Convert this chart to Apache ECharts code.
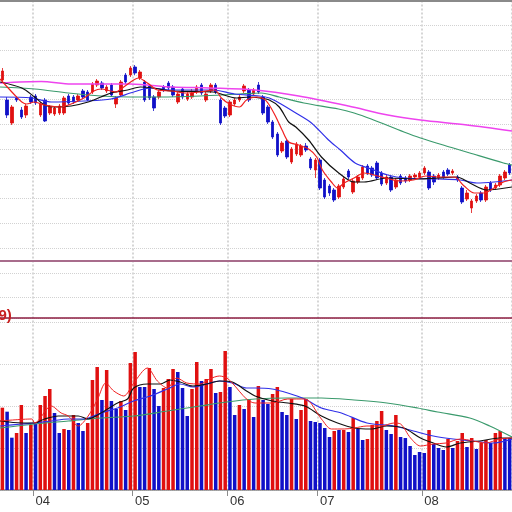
<!DOCTYPE html>
<html><head><meta charset="utf-8">
<script src="https://cdn.jsdelivr.net/npm/echarts@6/dist/echarts.min.js"></script>
<style>html,body{margin:0;padding:0;background:#fff}#c{width:512px;height:512px}</style>
</head><body><div id="c"></div>
<script>
// ---- data ----
const monthLabels = ['03','04','05','06','07','08'];
const monthBars   = [7,21,20,19,22,19];

const opens = [831,791,745,795,771,761,797,799,761,791, 765,763,765,765,799,797,791,809,807,807,
  821,825,809,821,783,801,841,841,857,835, 827,819,797,797,817,825,817,787,813,793,
  797,807,821,791,809,821,791,775,761,783, 791,809,811,803,821,797,777,747,723,689,
  709,667,683,681,699,673,651,671,631,619, 611,597,617,649,607,627,635,659,655,665,
  645,625,637,617,639,635,631,637,637,645, 647,639,635,647,651,645,637,615,593,575,
  589,605,591,625,615,621,635,661];
const closes = [849,761,777,791,757,779,787,785,783,749, 777,775,779,795,785,787,799,797,791,823,
  829,815,817,801,795,827,827,855,845,847, 791,795,775,807,811,815,801,803,797,803,
  805,817,805,803,821,807,745,759,787,791, 797,819,791,811,807,765,747,717,681,705,
  677,693,703,699,691,655,671,615,597,605, 591,619,633,637,629,637,657,645,641,635,
  623,637,611,631,625,629,639,641,645,655, 615,627,641,637,643,649,631,587,605,589,
  599,591,617,611,621,639,647,645];
const highs = [855,797,781,799,777,783,801,803,787,795, 781,779,783,799,803,801,803,813,811,827,
  833,829,821,825,799,831,845,859,861,851, 831,823,801,811,821,829,821,807,817,807,
  813,821,825,807,825,825,795,779,791,795, 801,823,815,815,827,801,781,751,727,709,
  713,697,707,703,705,677,675,675,635,623, 615,623,637,653,633,641,661,663,659,669,
  649,641,641,635,643,639,643,645,649,659, 651,643,645,651,655,653,641,619,611,593,
  603,609,621,629,625,643,651,665];
const lows = [827,755,741,787,753,755,783,781,757,747, 761,759,761,761,781,783,787,793,789,803,
  817,811,805,797,775,797,823,837,841,831, 787,791,769,793,807,811,797,783,793,789,
  793,803,801,787,805,803,741,755,757,779, 787,805,787,799,803,761,743,713,677,685,
  673,663,679,677,687,651,635,611,593,599, 587,593,613,633,603,623,631,641,637,631,
  619,621,607,613,621,625,627,633,633,641, 611,621,631,633,639,641,627,583,589,565,
  585,587,587,607,611,617,631,641];

const volumes = [2058,1958,1308,1425,2125,1425,1625,1650,2125,2350, 2525,1925,1425,1525,1500,1875,1675,1475,1675,2750,
  3075,2250,3000,2225,2025,2225,2000,3175,3450,2575, 2575,3050,2525,2100,2550,2775,3025,2950,2550,1850,
  2525,3200,2725,2775,3025,2425,2450,3475,2575,1875, 2125,2025,2275,1825,2600,2250,2150,2400,2575,1950,
  1875,2275,1775,2000,2275,1725,1700,1675,1550,1325, 1475,1500,1500,1450,1800,1525,1250,1275,1625,1725,
  1975,1500,1400,1875,1325,1300,1100,875,950,925, 1500,1150,1050,1000,1275,1050,1225,1425,1075,1300,
  1025,1175,1250,1175,1425,1475,1300,1300];
const volUp = [1,0,0,1,1,0,1,0,1,1, 1,0,0,1,0,1,0,0,1,1, 1,0,1,0,0,1,0,1,1,0, 0,1,0,0,1,1,1,0,0,0,
  1,1,0,1,1,0,1,1,0,0, 1,0,1,0,1,0,0,1,1,0, 0,1,0,1,1,0,0,0,0,0, 1,0,1,0,1,0,0,1,1,1,
  1,0,0,1,0,0,0,0,0,0, 1,0,0,0,1,0,1,1,0,1, 0,1,1,0,1,1,0,0];

// moving-average lines, vertices [bar index, value]
const maRed = [[-0.5,833],[2.6,801],[4.1,787],[5.1,783],[6.8,787],[8.9,781],[12.4,777],[14.5,783],[17.2,795],[19.3,809],[20.8,813],[22.9,809],[23.9,807],[25.6,817],[27.7,831],[28.7,835],[30.6,825],[32.7,811],[35.8,809],[38.5,805],[41.6,807],[44.8,811],[46.2,795],[47.9,783],[50,777],[51.5,791],[53.6,797],[55.2,793],[56.3,781],[57.7,757],[59,731],[60.4,707],[62.5,701],[64.6,693],[66.3,677],[67.5,651],[69.4,627],[70.7,615],[72.1,625],[74.2,635],[76.3,645],[79.2,639],[81.7,633],[84,629],[86.7,631],[89.3,639],[92.4,637],[95.3,637],[97.4,619],[99.5,605],[101.6,605],[103.7,615],[105.7,627],[107.5,631]];
const maBlack = [[-0.5,827],[4.1,815],[6.8,797],[8.9,781],[11,777],[14.5,779],[18.1,787],[20.8,797],[22.9,805],[26.4,811],[29.1,817],[31.8,815],[35.8,809],[44.4,807],[49.4,795],[52.1,797],[54.2,795],[56.3,791],[58.4,777],[60.4,747],[61.9,737],[64.6,711],[67.3,677],[70.7,647],[74.2,627],[76.3,627],[81.1,635],[87.6,633],[91.8,635],[95.9,637],[98.6,625],[102.2,611],[107.5,617]];
const maBlue = [[-0.5,797],[6.2,795],[10.3,787],[17.2,789],[22.9,793],[27.7,807],[31.2,815],[35.8,811],[44.4,811],[49,803],[54.2,799],[56.3,795],[58.4,785],[61.9,765],[65.2,745],[68.8,711],[71.3,691],[74.4,665],[77.8,653],[81.3,641],[84.9,635],[91.8,633],[96.6,631],[100.1,625],[103.7,627],[107.5,631]];
const maGreen = [[-0.5,817],[6.8,813],[13.9,805],[20.8,799],[27,797],[33.3,797],[41.7,799],[50,803],[54.6,805],[58.4,797],[63.6,785],[70.9,773],[74.2,765],[77.8,753],[84.7,727],[88.2,715],[95.1,695],[98.6,685],[105.7,665],[107.5,661]];
const maPink = [[-0.5,825],[8.2,828],[14.5,823],[27,823],[35.8,817],[43.7,815],[53.3,811],[62.5,799],[73,779],[81.3,761],[88.2,751],[98,741],[107.5,729]];

const vmaRed = [[-0.5,1725],[6.2,1775],[6.8,1675],[10.3,2100],[12.4,1925],[13.9,1850],[16,1600],[18.1,1850],[20.1,2275],[21.8,2675],[23.5,2475],[25.6,2350],[27.7,2675],[30.6,3050],[32.7,2725],[34.8,2550],[36.8,2800],[38.9,2675],[41.7,2650],[43.7,2775],[45.8,2850],[47.3,2800],[48.5,2675],[51.5,2275],[53.3,2175],[56.9,2175],[60.2,2275],[63.8,2275],[67.3,1775],[69.4,1525],[72.1,1525],[74.2,1550],[76.9,1600],[79.9,1600],[82.6,1675],[84,1650],[86.1,1300],[88.2,1100],[90.9,1150],[93.6,1175],[96.6,1275],[99.3,1225],[102,1175],[104.9,1275],[107.5,1300]];
const vmaBlack = [[-0.5,1725],[4.1,1675],[6.8,1675],[8.9,1775],[11.8,1850],[16,1850],[18.1,1775],[20.8,1925],[24.3,2175],[26.4,2275],[27.7,2550],[30.6,2650],[33.3,2650],[35.4,2750],[37.5,2700],[40.2,2600],[43.1,2650],[45.8,2725],[48.5,2700],[51.5,2475],[53.3,2350],[56.9,2225],[60.2,2175],[63.8,2100],[67.3,1850],[70.7,1675],[74.2,1550],[77.8,1525],[81.1,1600],[84.7,1550],[88.2,1300],[90.9,1175],[93.6,1075],[96.6,1175],[100.7,1225],[104.9,1300],[107.5,1300]];
const vmaBlue = [[-0.5,1600],[4.1,1650],[6.8,1675],[10.3,1725],[13.9,1775],[17.2,1775],[20.8,1925],[24.3,2050],[27.7,2225],[31.2,2350],[34.8,2525],[37.5,2650],[40.2,2575],[43.1,2650],[45.8,2725],[48.5,2675],[51.5,2550],[53.3,2550],[56.9,2525],[60.2,2425],[63.8,2275],[67.3,2050],[71.5,1925],[76.9,1675],[82.6,1600],[86.7,1475],[90.9,1350],[95.1,1275],[99.3,1225],[103.4,1175],[107.5,1275]];
const vmaGreen = [[-0.5,1550],[6.8,1650],[13.9,1725],[20.8,1800],[27.7,1850],[34.8,1975],[41.7,2100],[47.3,2200],[53.3,2275],[60.2,2300],[67.3,2300],[74.2,2250],[81.1,2175],[87.6,2050],[91.8,1950],[98.6,1800],[102.8,1600],[107.5,1325]];

// ---- build ----
const RED = '#e01010', BLUE = '#1010c8';
const categories = [];
const isStart = [];
monthLabels.forEach((m, mi) => {
  for (let d = 0; d < monthBars[mi]; d++) {
    categories.push(m + '/' + (d + 1));
    isStart.push(mi > 0 && d === 0);
  }
});
const N = categories.length;
const candles = opens.map((o, i) => [o, closes[i], lows[i], highs[i]]);
const volData = volumes.map((v, i) => ({ value: v, itemStyle: { color: volUp[i] ? RED : BLUE } }));

const L = -1, R = 512 - (L + N * 4.79);
const startFn = (i) => isStart[i];
const gridLine = { show: true, lineStyle: { color: '#d2d2d2', type: 'dotted', width: 1 } };

function line(data, color, width, xi, yi, z) {
  return { type: 'line', data: data, xAxisIndex: xi, yAxisIndex: yi, showSymbol: false,
    smooth: 0.3, animation: false, z: z || 3, lineStyle: { color: color, width: width } };
}

const chart = echarts.init(document.getElementById('c'), null, { renderer: 'canvas' });
chart.setOption({
  backgroundColor: '#ffffff',
  animation: false,
  grid: [
    { left: L, right: R, top: 0.5, bottom: 22 },      // background: month lines + bottom axis
    { left: L, right: R, top: 0.5, height: 297 },     // price
    { left: 0, right: 0, top: 261, height: 57 },      // separator strip
    { left: L, right: R, top: 318, bottom: 22 }       // volume
  ],
  xAxis: [
    { type: 'category', gridIndex: 0, data: categories,
      axisLine: { onZero: false, lineStyle: { color: '#8c8c8c', width: 1.5 } },
      axisTick: { show: true, interval: startFn, length: 6, lineStyle: { color: '#8c8c8c' } },
      axisLabel: { interval: startFn, formatter: (v) => v.split('/')[0], align: 'left', margin: 5,
        color: '#333', fontSize: 13, fontFamily: 'Liberation Sans' },
      splitLine: { show: true, interval: startFn, lineStyle: { color: '#d6d6d6', type: 'dotted', width: 2 } } },
    { type: 'category', gridIndex: 0, data: categories, position: 'top',
      axisLine: { onZero: false, lineStyle: { color: '#8a8a8a', width: 2 } },
      axisTick: { show: false }, axisLabel: { show: false }, splitLine: { show: false } },
    { type: 'category', gridIndex: 1, data: categories, show: false },
    { type: 'value', gridIndex: 1, min: -0.5, max: N - 0.5, show: false },
    { type: 'value', gridIndex: 2, min: 0, max: 1, position: 'top',
      axisLine: { onZero: false, lineStyle: { color: '#a86c8c', width: 2 } },
      axisTick: { show: false }, axisLabel: { show: false }, splitLine: { show: false } },
    { type: 'value', gridIndex: 2, min: 0, max: 1, position: 'bottom',
      axisLine: { onZero: false, lineStyle: { color: '#8c1c40', width: 1.5 } },
      axisTick: { show: false }, axisLabel: { show: false }, splitLine: { show: false } },
    { type: 'category', gridIndex: 3, data: categories, show: false },
    { type: 'value', gridIndex: 3, min: -0.5, max: N - 0.5, show: false }
  ],
  yAxis: [
    { type: 'value', gridIndex: 0, min: 0, max: 1, show: false },
    { type: 'value', gridIndex: 1, min: 396, max: 990, interval: 49.5,
      axisLine: { show: false }, axisTick: { show: false }, axisLabel: { show: false }, splitLine: gridLine },
    { type: 'value', gridIndex: 2, min: 0, max: 1, show: false },
    { type: 'value', gridIndex: 3, min: 0, max: 4300, interval: 1050,
      axisLine: { show: false }, axisTick: { show: false }, axisLabel: { show: false }, splitLine: gridLine }
  ],
  series: [
    { type: 'candlestick', xAxisIndex: 2, yAxisIndex: 1, data: candles, barWidth: 3,
      itemStyle: { color: RED, color0: BLUE, borderColor: RED, borderColor0: BLUE, borderWidth: 0.8 } },
    line(maPink, '#ee44ee', 1.5, 3, 1),
    line(maGreen, '#3a9a6c', 1.2, 3, 1),
    line(maBlue, '#3030e8', 1.2, 3, 1),
    line(maBlack, '#111111', 1.2, 3, 1),
    line(maRed, '#f02020', 1.2, 3, 1),
    { type: 'bar', xAxisIndex: 6, yAxisIndex: 3, data: volData, barWidth: '74%' },
    line(vmaGreen, '#3a9a6c', 1.2, 7, 3),
    line(vmaBlue, '#3030e8', 1.2, 7, 3),
    line(vmaBlack, '#111111', 1.2, 7, 3),
    line(vmaRed, '#f02020', 1, 7, 3)
  ],
  graphic: [
    { type: 'text', x: -1.5, y: 315.5, z: 10,
      style: { text: '9)', fill: '#c82020', font: 'bold 15px "Liberation Sans"', verticalAlign: 'middle' } }
  ]
});
</script></body></html>
